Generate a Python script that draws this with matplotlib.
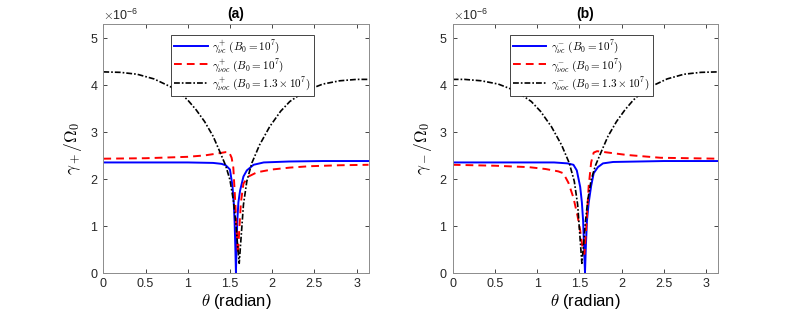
import matplotlib.pyplot as plt
import numpy as np

plt.rcParams['font.family'] = ['Liberation Sans', 'DejaVu Sans']
plt.rcParams['mathtext.fontset'] = 'cm'

# ---- panel (a): gamma_+ ----
th_blue_a = [0, 0.5, 1.0, 1.3, 1.4, 1.45, 1.50, 1.53, 1.545, 1.555, 1.563, 1.571,
             1.579, 1.587, 1.60, 1.62, 1.66, 1.70, 1.78, 1.9, 2.2, 2.6, np.pi]
g_blue_a = [2.35, 2.35, 2.35, 2.34, 2.32, 2.29, 2.2, 1.85, 1.5, 1.1, 0.6, 0.0,
            0.6, 1.1, 1.5, 1.75, 2.05, 2.18, 2.30, 2.35, 2.37, 2.38, 2.38]

th_red_a = [0, 0.5, 1.0, 1.2, 1.35, 1.45, 1.49, 1.52, 1.54, 1.56, 1.58, 1.595,
            1.61, 1.63, 1.66, 1.72, 1.82, 2.0, 2.21, 2.45, 2.8, np.pi]
g_red_a = [2.43, 2.44, 2.47, 2.50, 2.54, 2.57, 2.57, 2.45, 2.24, 1.6, 0.9, 0.4,
           0.9, 1.5, 1.90, 2.05, 2.14, 2.20, 2.24, 2.27, 2.29, 2.30]

th_blk_a = [0, 0.2, 0.4, 0.6, 0.8, 0.9, 1.0, 1.1, 1.2, 1.3, 1.38, 1.45, 1.50,
            1.54, 1.57, 1.59, 1.61, 1.63, 1.66, 1.70, 1.76, 1.85, 1.97, 2.1,
            2.21, 2.4, 2.6, 2.8, 3.0, np.pi]
g_blk_a = [4.28, 4.27, 4.23, 4.13, 3.96, 3.84, 3.68, 3.47, 3.22, 2.91, 2.58,
           2.28, 1.98, 1.55, 1.05, 0.6, 0.2, 0.7, 1.45, 1.95, 2.34, 2.72, 3.11,
           3.44, 3.65, 3.88, 4.02, 4.09, 4.12, 4.12]

# ---- panel (b): gamma_- ----
th_blue_b = [0, 0.5, 0.9, 1.2, 1.36, 1.43, 1.47, 1.51, 1.53, 1.545, 1.555, 1.567,
             1.578, 1.59, 1.61, 1.64, 1.67, 1.72, 1.78, 1.9, 2.5, np.pi]
g_blue_b = [2.35, 2.35, 2.35, 2.35, 2.33, 2.30, 2.18, 1.83, 1.5, 1.1, 0.6, 0.0,
            0.6, 1.1, 1.48, 1.85, 2.12, 2.25, 2.33, 2.36, 2.38, 2.38]

th_red_b = [0, 0.5, 0.9, 1.1, 1.25, 1.31, 1.37, 1.43, 1.48, 1.51, 1.54, 1.56,
            1.58, 1.61, 1.64, 1.67, 1.71, 1.8, 2.06, 2.46, np.pi]
g_red_b = [2.30, 2.28, 2.25, 2.21, 2.16, 2.12, 1.92, 1.6, 1.2, 0.9, 0.5, 0.4,
           0.9, 1.83, 2.35, 2.56, 2.59, 2.57, 2.51, 2.45, 2.43]

th_blk_b = [0, 0.14, 0.34, 0.54, 0.74, 0.93, 1.04, 1.17, 1.29, 1.38, 1.44, 1.48,
            1.51, 1.53, 1.55, 1.57, 1.60, 1.64, 1.69, 1.76, 1.84, 1.94, 2.04,
            2.14, 2.24, 2.34, 2.54, 2.74, 2.94, np.pi]
g_blk_b = [4.12, 4.12, 4.09, 4.02, 3.88, 3.65, 3.44, 3.11, 2.72, 2.34, 1.95,
           1.45, 0.7, 0.2, 0.6, 1.05, 1.55, 1.98, 2.28, 2.58, 2.91, 3.22, 3.47,
           3.68, 3.84, 3.96, 4.13, 4.23, 4.27, 4.28]

scale = 1e-6

fig = plt.figure(figsize=(7.93, 3.19), dpi=100)
ax_a = fig.add_axes([0.1303, 0.1451, 0.3344, 0.7796])
ax_b = fig.add_axes([0.5709, 0.1451, 0.3344, 0.7796])

panels = [
    (ax_a, '(a)', '+', r'$\gamma_+/\Omega_0$', 0.525,
     (th_blue_a, g_blue_a), (th_red_a, g_red_a), (th_blk_a, g_blk_a)),
    (ax_b, '(b)', '-', r'$\gamma_-/\Omega_0$', 0.485,
     (th_blue_b, g_blue_b), (th_red_b, g_red_b), (th_blk_b, g_blk_b)),
]

for ax, title, sgn, ylab, legx, blue, red, blk in panels:
    ax.plot(blue[0], np.array(blue[1]) * scale, color='#0000ff', lw=1.4,
            label=r'$\gamma^{%s}_{\nu c}\ (B_0=10^7)$' % sgn)
    ax.plot(red[0], np.array(red[1]) * scale, color='#ff0000', lw=1.4,
            linestyle=(0, (4, 2.6)),
            label=r'$\gamma^{%s}_{\nu oc}\ (B_0=10^7)$' % sgn)
    ax.plot(blk[0], np.array(blk[1]) * scale, color='black', lw=1.2,
            linestyle=(0, (3.5, 1.2, 1, 1.2)),
            label=r'$\gamma^{%s}_{\nu oc}\ (B_0=1.3\times10^7)$' % sgn)

    ax.set_xlim(0, np.pi)
    ax.set_ylim(0, 5.3e-6)
    ax.set_xticks([0, 0.5, 1, 1.5, 2, 2.5, 3])
    ax.set_xticklabels(['0', '0.5', '1', '1.5', '2', '2.5', '3'])
    ax.set_yticks(np.arange(6) * 1e-6)
    ax.ticklabel_format(axis='y', style='sci', scilimits=(0, 0), useMathText=True)
    ax.yaxis.get_offset_text().set_fontsize(9)
    ax.yaxis.get_offset_text().set_color('#262626')

    ax.tick_params(direction='in', top=True, right=True, length=3, width=0.6,
                   labelsize=9, colors='#262626')
    for sp in ax.spines.values():
        sp.set_color('#8c8c8c')
        sp.set_linewidth(0.7)

    ax.set_title(title, fontsize=10, fontweight='bold', pad=4)
    ax.set_xlabel(r'$\theta$ (radian)', fontsize=12, labelpad=2)
    ax.set_ylabel(ylab, fontsize=12.5, labelpad=4)

    leg = ax.legend(loc='upper center', bbox_to_anchor=(legx, 0.965),
                    fontsize=8, handlelength=3.0, handletextpad=0.4,
                    borderpad=0.3, labelspacing=0.15, borderaxespad=0.2,
                    fancybox=False, framealpha=1)
    leg.get_frame().set_edgecolor('#262626')
    leg.get_frame().set_linewidth(0.6)

fig.savefig('out.png', dpi=100)
